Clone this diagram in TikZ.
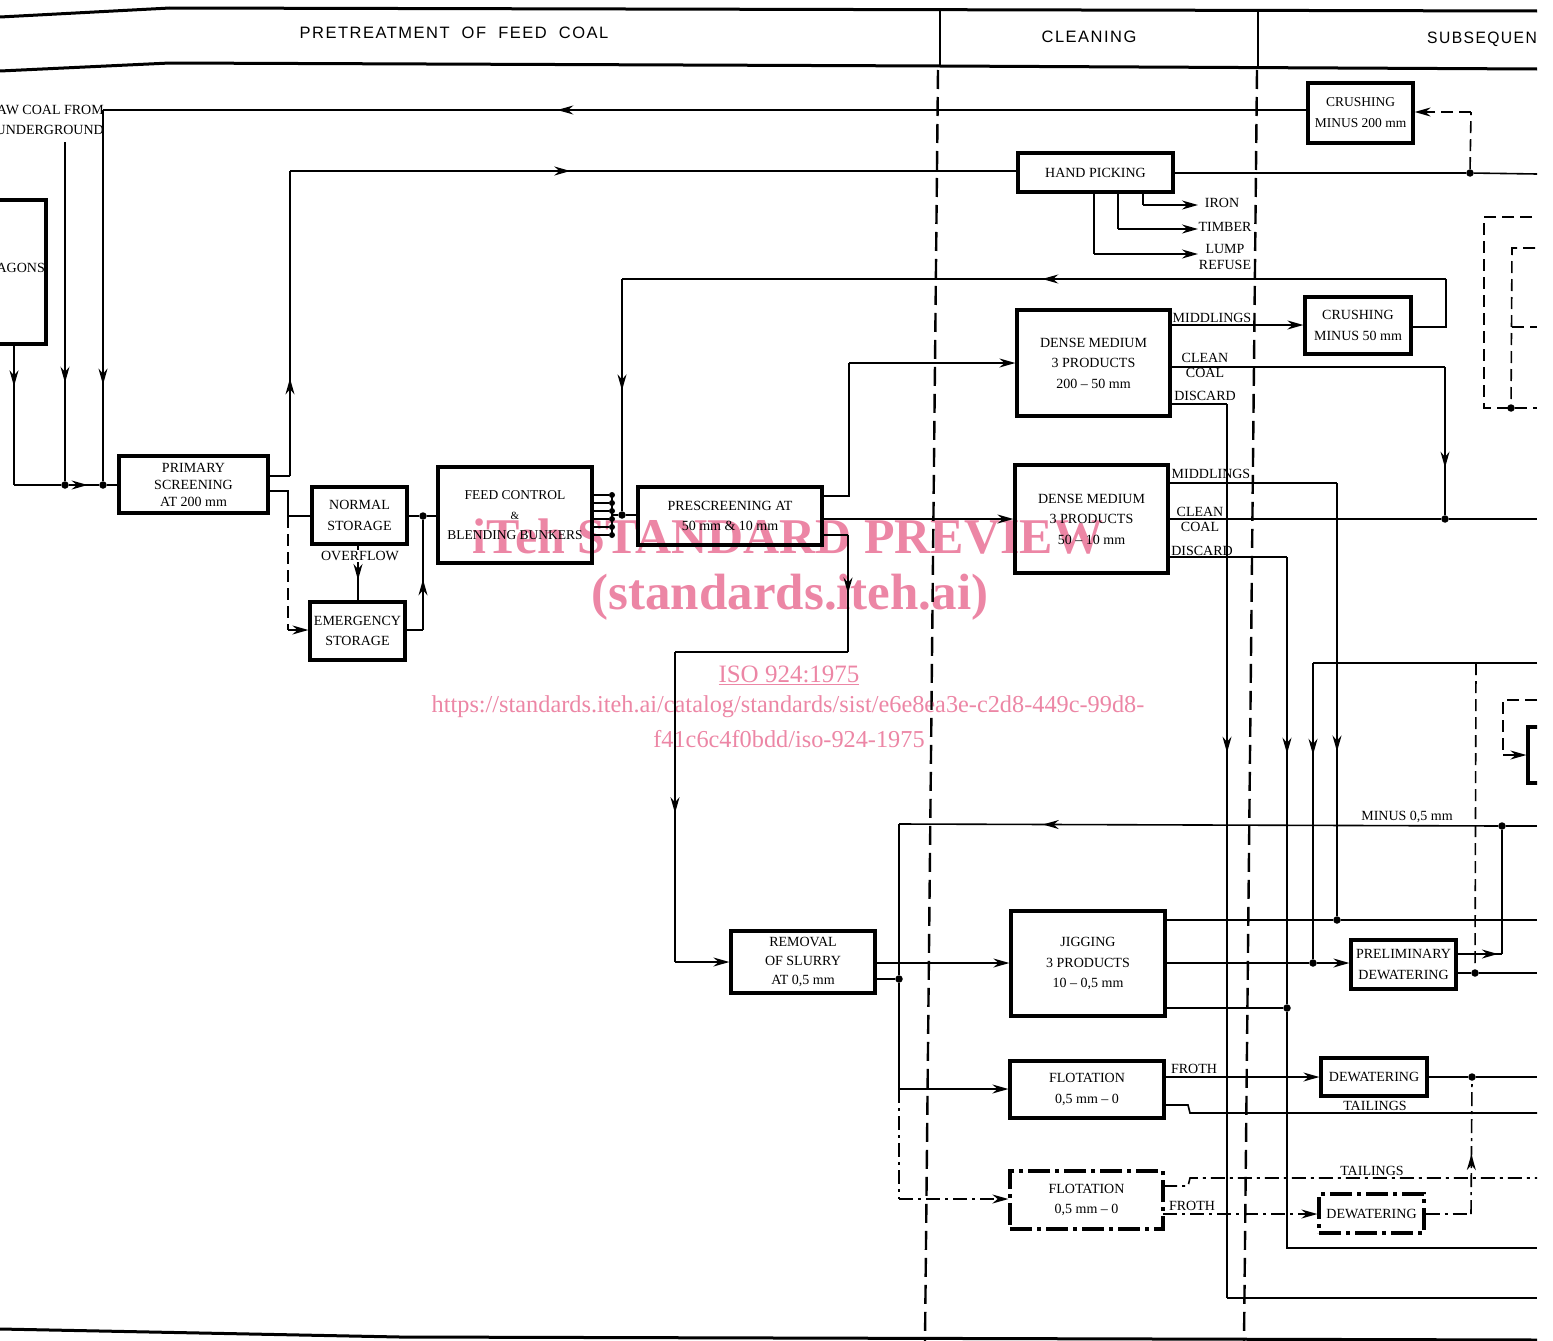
\documentclass[tikz,border=0pt]{standalone}
\usepackage{fontspec}
\setmainfont{Liberation Serif}
\newfontfamily\hdrfont[LetterSpace=9]{Liberation Sans}
\usetikzlibrary{arrows.meta,decorations.markings}
\definecolor{wmpink}{RGB}{236,134,165}
\newcommand\mkpt[3]{\coordinate (#1) at (#2,#3);}
\tikzset{
  box/.style={draw, line width=3.2pt, align=center, inner sep=0pt, font=\fontsize{14}{20.5}\selectfont},
  ddbox/.style={box, dash pattern=on 22pt off 5pt on 4pt off 5pt},
  flow/.style={line width=1.6pt},
  ddflow/.style={flow, dash pattern=on 14pt off 5pt on 3pt off 5pt},
  dflow/.style={flow, dash pattern=on 12pt off 6pt},
  sepline/.style={line width=2.4pt, dash pattern=on 19pt off 8pt},
  lbl/.style={font=\fontsize{14}{16}\selectfont, inner sep=0pt, align=center},
  jdot/.style={circle, fill, inner sep=0pt, minimum size=7.5pt},
  toarr/.style={-{Stealth[length=16pt,width=9pt]}},
  midarr/.style={postaction={decorate,decoration={markings,mark=at position #1 with {\arrow{Stealth[length=16pt,width=9pt]}}}}},
  hdr/.style={font=\hdrfont\fontsize{16.5}{18}\selectfont, inner sep=0pt},
  wm/.style={text=wmpink, inner sep=0pt, align=center},
}
\begin{document}
\begin{tikzpicture}[x=1pt,y=-1pt]
\useasboundingbox (0,0) rectangle (1553,1341);
\begin{scope}
\clip (0,0) rectangle (1537,1341);

% ---------- watermark (under everything) ----------
\node[wm, font=\bfseries\fontsize{50}{52}\selectfont] (wm1) at (788,537) {iTeh STANDARD PREVIEW};
\node[wm, font=\bfseries\fontsize{51}{53}\selectfont] (wm2) at (790,597) {(standards.iteh.ai)};
\node[wm, font=\fontsize{25}{27}\selectfont] (wm3) at (789,675) {\underline{ISO 924:1975}};
\node[wm, font=\fontsize{24.3}{26}\selectfont] (wm4) at (788,707) {https://standards.iteh.ai/catalog/standards/sist/e6e8ea3e-c2d8-449c-99d8-};
\node[wm, font=\fontsize{24.3}{26}\selectfont] (wm5) at (789,739) {f41c6c4f0bdd/iso-924-1975};

% ---------- header ----------
\draw[line width=3pt] (0,17) -- (170,8) -- (1537,11);
\draw[line width=3pt] (0,71) -- (170,63) -- (940,66) -- (1537,69);
\draw[line width=1.8pt] (940,10) -- (940,66);
\draw[line width=1.8pt] (1258,11) -- (1258,68);
\node[hdr] (h1) at (454,33) {PRETREATMENT\ \ OF\ \ FEED\ \ COAL};
\node[hdr] (h2) at (1089,37) {CLEANING};
\node[hdr, anchor=west] (h3) at (1427,39) {\scalebox{0.95}[1]{SUBSEQUENT TREATMENT}};

% column separators and bottom rule
\draw[sepline] (938,70) -- (925,1341);
\draw[sepline] (1257,70) -- (1244,1341);
\draw[line width=3pt] (0,1329) -- (400,1337) -- (1537,1340);

% ---------- boxes ----------
\node[box, minimum width=132pt, minimum height=144pt] (wagons) at (-20,272) {};
\node[lbl, anchor=east] (wagtxt) at (45,268) {WAGONS};
\node[lbl, anchor=east, align=right, font=\fontsize{14}{20}\selectfont] (rawtxt) at (104,120) {RAW COAL FROM\\UNDERGROUND};

\node[box, minimum width=105pt, minimum height=60pt, font=\fontsize{13.5}{21}\selectfont] (crush200) at (1360.5,113) {CRUSHING\\MINUS 200 mm};
\node[box, minimum width=155pt, minimum height=39pt] (handpick) at (1095.5,172.5) {HAND PICKING};
\node[box, minimum width=153pt, minimum height=106pt] (dm1) at (1093.5,363) {DENSE MEDIUM\\3 PRODUCTS\\200 -- 50 mm};
\node[box, minimum width=106pt, minimum height=57pt] (crush50) at (1358,325.5) {CRUSHING\\MINUS 50 mm};
\node[box, minimum width=153pt, minimum height=108pt] (dm2) at (1091.5,519) {DENSE MEDIUM\\3 PRODUCTS\\50 -- 10 mm};
\node[box, minimum width=149pt, minimum height=57pt, font=\fontsize{14}{17}\selectfont] (primary) at (193.5,484.5) {PRIMARY\\SCREENING\\AT 200 mm};
\node[box, minimum width=95pt, minimum height=57pt] (normal) at (359.5,515.5) {NORMAL\\STORAGE};
\node[box, minimum width=95pt, minimum height=58pt] (emerg) at (357.5,631) {EMERGENCY\\STORAGE};
\node[box, minimum width=154pt, minimum height=96pt, font=\fontsize{13.5}{20}\selectfont] (feed) at (515,515) {FEED CONTROL\\{\fontsize{11}{12}\selectfont\&}\\BLENDING BUNKERS};
\node[box, minimum width=184pt, minimum height=58pt] (prescreen) at (730,516) {PRESCREENING AT\\50 mm \& 10 mm};
\node[box, minimum width=144pt, minimum height=62pt, font=\fontsize{14}{19}\selectfont] (removal) at (803,962) {REMOVAL\\OF SLURRY\\AT 0,5 mm};
\node[box, minimum width=154pt, minimum height=105pt] (jig) at (1088,963.5) {JIGGING\\3 PRODUCTS\\10 -- 0,5 mm};
\node[box, minimum width=105pt, minimum height=49pt] (prelim) at (1403.5,964.5) {PRELIMINARY\\DEWATERING};
\node[box, minimum width=154pt, minimum height=57pt] (flot1) at (1087,1089.5) {FLOTATION\\0,5 mm -- 0};
\node[box, minimum width=106pt, minimum height=38pt] (dewat1) at (1374,1077) {DEWATERING};
\node[ddbox, minimum width=153pt, minimum height=58pt] (flot2) at (1086.5,1200) {FLOTATION\\0,5 mm -- 0};
\node[ddbox, minimum width=105pt, minimum height=39pt] (dewat2) at (1371.5,1213.5) {DEWATERING};
\node[box, minimum width=64pt, minimum height=56pt] (rbox) at (1560,755) {};

% ---------- junction dots ----------
\node[jdot] (j1) at (65,485) {};
\node[jdot] (j2) at (103,485) {};
\node[jdot] (j3) at (423,516) {};
\node[jdot] (j4) at (622,515) {};
\node[jdot] (j5) at (899,979) {};
\node[jdot] (j6) at (1502,826) {};
\node[jdot] (j7) at (1445,519) {};
\node[jdot] (j8) at (1337,920) {};
\node[jdot] (j9) at (1287,1008) {};
\node[jdot] (j10) at (1313,963) {};
\node[jdot] (j11) at (1475,973) {};
\node[jdot] (j12) at (1472,1077) {};
\node[jdot] (j13) at (1470,173) {};
\node[jdot] (j14) at (1511,408) {};

% ---------- coordinates ----------
\mkpt{w1}{14}{344} \mkpt{w2}{14}{485}
\mkpt{u1}{65}{142}
\mkpt{c1}{1308}{110} \mkpt{c2}{103}{110}
\mkpt{pu1}{268}{476} \mkpt{pu2}{290}{476} \mkpt{pu3}{290}{171} \mkpt{pu4}{1018}{171}
\mkpt{pl1}{268}{491} \mkpt{pl2}{288}{491} \mkpt{pl3}{288}{516} \mkpt{pl4}{312}{516}
\mkpt{pl5}{288}{630}
\mkpt{ov1}{358}{544} \mkpt{ov2}{358}{602}
\mkpt{e1}{405}{630} \mkpt{e2}{423}{630}
\mkpt{fmid}{612}{515}
\mkpt{k1}{1411}{327} \mkpt{k2}{1446}{327} \mkpt{k3}{1446}{279} \mkpt{k4}{622}{279}
\mkpt{s1}{822}{496} \mkpt{s2}{849}{496} \mkpt{s3}{849}{363}
\mkpt{s4}{822}{519}
\mkpt{s5}{822}{535} \mkpt{s6}{848}{535} \mkpt{s7}{848}{652} \mkpt{s8}{675}{652} \mkpt{s9}{675}{962}
\mkpt{r1}{875}{963} \mkpt{r2}{875}{979}
\mkpt{m1}{1537}{826} \mkpt{m2}{899}{824} \mkpt{m3}{899}{1089} \mkpt{m4}{899}{1199}
\mkpt{a1}{1170}{325}
\mkpt{a2}{1170}{367} \mkpt{a3}{1445}{367}
\mkpt{a4}{1170}{404} \mkpt{a5}{1227}{404} \mkpt{a6}{1227}{1298} \mkpt{a7}{1537}{1298}
\mkpt{b1}{1168}{483} \mkpt{b2}{1337}{483}
\mkpt{b3}{1168}{519} \mkpt{b4}{1537}{519}
\mkpt{b5}{1168}{557} \mkpt{b6}{1287}{557} \mkpt{b7}{1287}{1248} \mkpt{b8}{1537}{1248}
\mkpt{n1}{1537}{663} \mkpt{n2}{1313}{663}
\mkpt{g1}{1165}{920} \mkpt{g2}{1537}{920}
\mkpt{g3}{1165}{963}
\mkpt{g4}{1165}{1008}
\mkpt{q1}{1456}{954} \mkpt{q2}{1502}{954}
\mkpt{q3}{1456}{973} \mkpt{q4}{1537}{973} \mkpt{q5}{1476}{663}
\mkpt{t1}{1164}{1077}
\mkpt{t2}{1164}{1105} \mkpt{t3}{1188}{1105} \mkpt{t4}{1190}{1113} \mkpt{t5}{1537}{1113}
\mkpt{t6}{1537}{1077}
\mkpt{v1}{1163}{1186} \mkpt{v2}{1188}{1186} \mkpt{v3}{1190}{1178} \mkpt{v4}{1537}{1178}
\mkpt{v5}{1163}{1214} \mkpt{v6}{1471}{1214}
\mkpt{h2e}{1537}{174} \mkpt{d1}{1471}{112}
\mkpt{i1}{1143}{192} \mkpt{i2}{1143}{205} \mkpt{i3}{1198}{205}
\mkpt{i4}{1118}{192} \mkpt{i5}{1118}{229} \mkpt{i6}{1198}{229}
\mkpt{i7}{1094}{192} \mkpt{i8}{1094}{254} \mkpt{i9}{1198}{254}
\mkpt{x1}{1532}{217} \mkpt{x2}{1484}{217} \mkpt{x3}{1484}{408} \mkpt{x4}{1537}{408}
\mkpt{x5}{1535}{248} \mkpt{x6}{1512}{248} \mkpt{x7}{1512}{327} \mkpt{x8}{1537}{327}
\mkpt{y1}{1537}{700} \mkpt{y2}{1503}{700} \mkpt{y3}{1503}{755}

% ---------- connectors: feed side ----------
\draw[flow, midarr=0.30] (w1) -- (w2);
\draw[flow] (w2) -- (j1);
\draw[flow, midarr=0.62] (j1) -- (j2);
\draw[flow] (j2) -- (j2 -| primary.west);
\draw[flow, midarr=0.71] (u1) -- (j1);
\draw[flow, midarr=0.623] (c1) -- (c2);
\draw[flow, midarr=0.74] (c2) -- (j2);

\draw[flow] (pu1) -- (pu2);
\draw[flow, midarr=0.32] (pu2) -- (pu3);
\draw[flow, midarr=0.385] (pu3) -- (pu4);

\draw[flow] (pl1) -- (pl2) -- (pl3) -- (pl4);
\draw[dflow] (pl3) -- (pl5);
\draw[dflow, toarr] (pl5) -- (pl5 -| emerg.west);

\draw[flow, midarr=0.62] (ov1) -- (ov2);
\node[lbl, fill=white, inner sep=1pt] (ovf) at (360,556) {OVERFLOW};

\draw[flow] (normal.east |- j3) -- (j3) -- (j3 -| feed.west);
\draw[flow] (e1) -- (e2);
\draw[flow, midarr=0.46] (e2) -- (j3);

\foreach \i/\yy in {1/495,2/503,3/511,4/519,5/527,6/535} {
  \coordinate (fo\i) at (592,\yy);
  \node[jdot, minimum size=6pt] (fd\i) at (612,\yy) {};
  \draw[flow] (fo\i) -- (fd\i);
}
\draw[flow] (fd1.center) -- (fd6.center);
\draw[flow] (fmid) -- (j4);
\draw[flow] (j4) -- (j4 -| prescreen.west);

\draw[flow] (k1) -- (k2) -- (k3);
\draw[flow, midarr=0.49] (k3) -- (k4);
\draw[flow, midarr=0.48] (k4) -- (j4);

\draw[flow] (s1) -- (s2) -- (s3);
\draw[flow, toarr] (s3) -- (s3 -| dm1.west);
\draw[flow, toarr] (s4) -- (s4 -| dm2.west);
\draw[flow] (s5) -- (s6);
\draw[flow, midarr=0.5] (s6) -- (s7);
\draw[flow] (s7) -- (s8);
\draw[flow, midarr=0.52] (s8) -- (s9);
\draw[flow, toarr] (s9) -- (s9 -| removal.west);

% ---------- slurry / fines ----------
\draw[flow, toarr] (r1) -- (r1 -| jig.west);
\draw[flow] (r2) -- (j5);
\draw[flow] (m1) -- (j6);
\draw[flow, midarr=0.76] (j6) -- (m2);
\draw[flow] (m2) -- (j5);
\draw[flow] (j5) -- (m3);
\draw[flow, toarr] (m3) -- (m3 -| flot1.west);
\draw[ddflow] (m3) -- (m4);
\draw[ddflow, toarr] (m4) -- (m4 -| flot2.west);
\node[lbl] (minus) at (1407,817) {MINUS 0,5 mm};

% ---------- hand picking ----------
\draw[flow] (handpick.east |- j13) -- (j13) -- (h2e);
\draw[dflow] (j13) -- (d1);
\draw[dflow, toarr] (d1) -- (d1 -| crush200.east);
\draw[flow] (i1) -- (i2); \draw[flow, toarr] (i2) -- (i3);
\draw[flow] (i4) -- (i5); \draw[flow, toarr] (i5) -- (i6);
\draw[flow] (i7) -- (i8); \draw[flow, toarr] (i8) -- (i9);
\node[lbl] (iron) at (1222,203) {IRON};
\node[lbl] (timber) at (1225,227) {TIMBER};
\node[lbl, font=\fontsize{14}{16}\selectfont] (lump) at (1225,257) {LUMP\\REFUSE};

% ---------- dense medium 1 ----------
\draw[flow, toarr] (a1) -- (a1 -| crush50.west);
\draw[flow] (a2) -- (a3);
\draw[flow, midarr=0.68] (a3) -- (j7);
\draw[flow] (a4) -- (a5);
\draw[flow, midarr=0.39] (a5) -- (a6);
\draw[flow] (a6) -- (a7);
\node[lbl] (mid1) at (1212,318) {MIDDLINGS};
\node[lbl, font=\fontsize{14}{15}\selectfont] (cc1) at (1205,365) {CLEAN\\COAL};
\node[lbl] (dis1) at (1205,396) {DISCARD};

% ---------- dense medium 2 ----------
\draw[flow] (b1) -- (b2);
\draw[flow, midarr=0.62] (b2) -- (j8);
\draw[flow] (b3) -- (j7) -- (b4);
\draw[flow] (b5) -- (b6);
\draw[flow, midarr=0.44] (b6) -- (j9);
\draw[flow] (j9) -- (b7) -- (b8);
\node[lbl] (mid2) at (1211,474) {MIDDLINGS};
\node[lbl, font=\fontsize{14}{15}\selectfont] (cc2) at (1200,519) {CLEAN\\COAL};
\node[lbl] (dis2) at (1202,551) {DISCARD};

\draw[flow] (n1) -- (n2);
\draw[flow, midarr=0.31] (n2) -- (j10);

% ---------- jigging ----------
\draw[flow] (g1) -- (j8) -- (g2);
\draw[flow] (g3) -- (j10);
\draw[flow, toarr] (j10) -- (j10 -| prelim.west);
\draw[flow] (g4) -- (j9);

\draw[flow, midarr=0.91] (q1) -- (q2);
\draw[flow] (q2) -- (j6);
\draw[flow] (q3) -- (j11) -- (q4);
\draw[dflow] (q5) -- (j11);

% ---------- flotation ----------
\draw[flow, toarr] (t1) -- (t1 -| dewat1.west);
\node[lbl] (froth1) at (1194,1069) {FROTH};
\draw[flow] (t2) -- (t3) -- (t4) -- (t5);
\node[lbl] (tail1) at (1375,1106) {TAILINGS};
\draw[flow] (dewat1.east |- j12) -- (j12) -- (t6);

\draw[ddflow] (v1) -- (v2) -- (v3) -- (v4);
\node[lbl] (tail2) at (1372,1171) {TAILINGS};
\draw[ddflow, toarr] (v5) -- (v5 -| dewat2.west);
\node[lbl] (froth2) at (1192,1206) {FROTH};
\draw[ddflow] (dewat2.east |- v6) -- (v6);
\draw[ddflow, midarr=0.45] (v6) -- (j12);

% ---------- partial items at the right edge ----------
\draw[dflow] (x1) -- (x2) -- (x3) -- (x4);
\draw[dflow] (x5) -- (x6) -- (j14);
\draw[dflow] (x7) -- (x8);
\draw[dflow] (y1) -- (y2) -- (y3);
\draw[flow, toarr] (y3) -- (y3 -| rbox.west);

\end{scope}
\end{tikzpicture}
\end{document}
